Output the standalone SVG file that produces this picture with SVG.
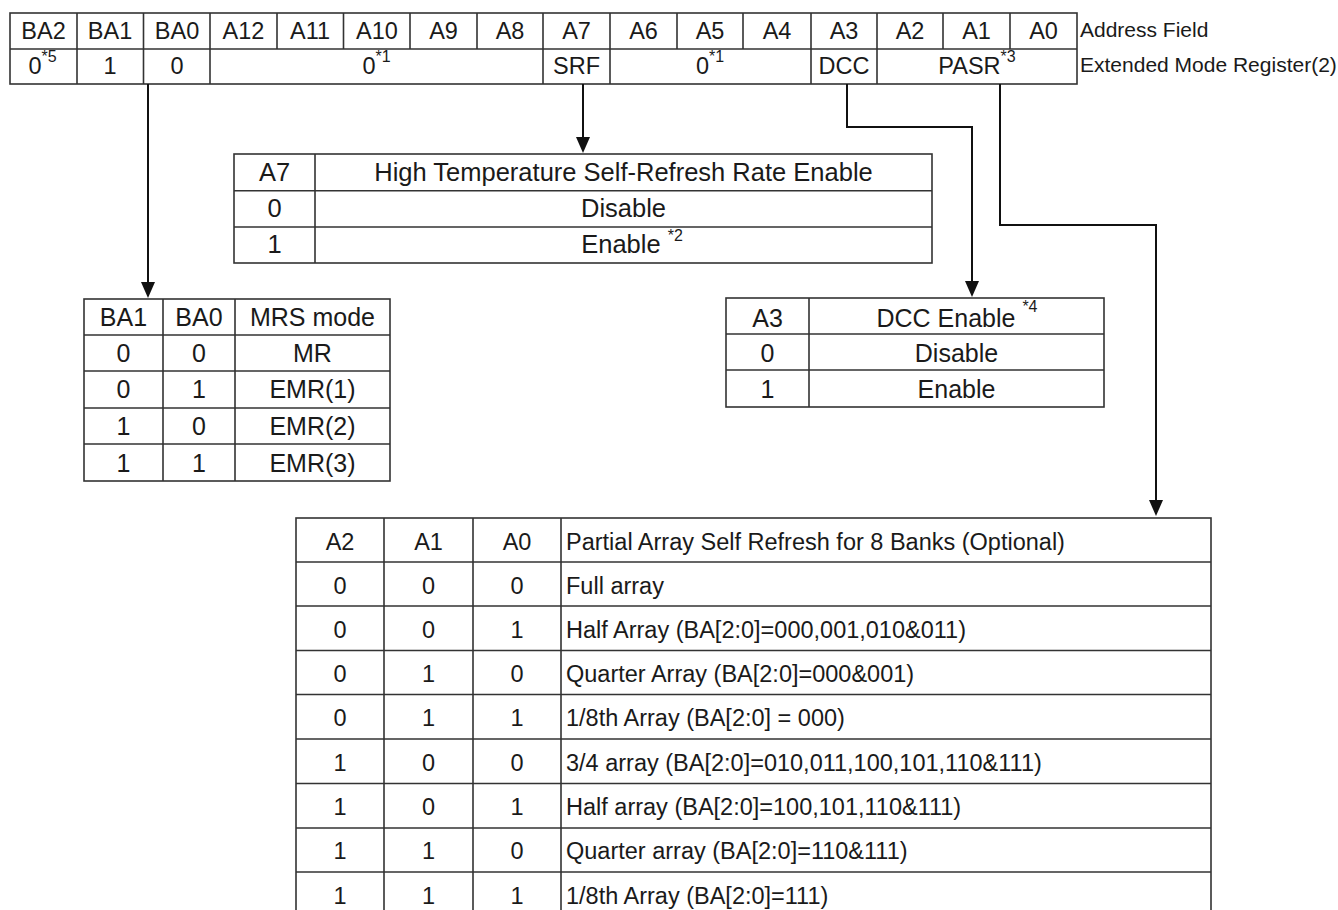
<svg xmlns="http://www.w3.org/2000/svg" width="1338" height="910" viewBox="0 0 1338 910">
<defs>
<style>
text { font-family: "Liberation Sans", Arial, sans-serif; fill: #1a1a1a; }
.r { font-size: 23.5px; text-anchor: middle; }
.lbl { font-size: 21px; text-anchor: start; }
.t { font-size: 25px; text-anchor: middle; }
.a7 { font-size: 25.5px; text-anchor: middle; }
.p { font-size: 23.5px; text-anchor: middle; }
.pl { font-size: 23.5px; text-anchor: start; }
.sup { font-size: 16px; }
.grid { fill: none; stroke: #333; stroke-width: 1.6; }
.conn { fill: none; stroke: #111; stroke-width: 2; }
</style>
<marker id="arr" markerUnits="userSpaceOnUse" markerWidth="16" markerHeight="14" refX="12" refY="7" orient="auto">
<path d="M0,0 L16,7 L0,14 z" fill="#111"/>
</marker>
</defs>
<rect width="1338" height="910" fill="#fff"/>

<g id="register">
<rect class="grid" x="10" y="13" width="1067" height="71"/>
<path class="grid" d="M10,49 H1077
M77,13 V84 M143.5,13 V84 M210,13 V84 M277,13 V49 M343.5,13 V49 M410,13 V49 M477,13 V49 M543,13 V84 M610,13 V84 M677,13 V49 M743,13 V49 M811,13 V84 M877,13 V84 M943,13 V49 M1010,13 V49"/>
<text class="r" x="43.5" y="39">BA2</text>
<text class="r" x="110" y="39">BA1</text>
<text class="r" x="177" y="39">BA0</text>
<text class="r" x="243.5" y="39">A12</text>
<text class="r" x="310" y="39">A11</text>
<text class="r" x="377" y="39">A10</text>
<text class="r" x="443.5" y="39">A9</text>
<text class="r" x="510" y="39">A8</text>
<text class="r" x="576.5" y="39">A7</text>
<text class="r" x="643.5" y="39">A6</text>
<text class="r" x="710" y="39">A5</text>
<text class="r" x="777" y="39">A4</text>
<text class="r" x="844" y="39">A3</text>
<text class="r" x="910" y="39">A2</text>
<text class="r" x="976.5" y="39">A1</text>
<text class="r" x="1043.5" y="39">A0</text>
<text class="r" x="42.5" y="74">0<tspan class="sup" dy="-12">*5</tspan></text>
<text class="r" x="110" y="74">1</text>
<text class="r" x="177" y="74">0</text>
<text class="r" x="376.5" y="74">0<tspan class="sup" dy="-12">*1</tspan></text>
<text class="r" x="576.5" y="74">SRF</text>
<text class="r" x="710" y="74">0<tspan class="sup" dy="-12">*1</tspan></text>
<text class="r" x="844" y="74">DCC</text>
<text class="r" x="977" y="74">PASR<tspan class="sup" dy="-12">*3</tspan></text>
<text class="lbl" x="1080" y="37">Address Field</text>
<text class="lbl" x="1080" y="72">Extended Mode Register(2)</text>
</g>

<g id="connectors">
<path class="conn" d="M148,84 V294" marker-end="url(#arr)"/>
<path class="conn" d="M583,84 V149" marker-end="url(#arr)"/>
<path class="conn" d="M847,84 V127 H972 V293" marker-end="url(#arr)"/>
<path class="conn" d="M1000,84 V225 H1156 V512" marker-end="url(#arr)"/>
</g>

<g id="tbl-a7">
<rect class="grid" x="234" y="154" width="698" height="109"/>
<path class="grid" d="M234,190.7 H932 M234,227 H932 M315,154 V263"/>
<text class="a7" x="274.5" y="181">A7</text>
<text class="a7" x="623.5" y="181">High Temperature Self-Refresh Rate Enable</text>
<text class="a7" x="274.5" y="217">0</text>
<text class="a7" x="623.5" y="217">Disable</text>
<text class="a7" x="274.5" y="253">1</text>
<text class="a7" x="632" y="253">Enable <tspan class="sup" dy="-12">*2</tspan></text>
</g>

<g id="tbl-ba">
<rect class="grid" x="84" y="299" width="306" height="182"/>
<path class="grid" d="M84,335 H390 M84,371 H390 M84,408 H390 M84,444 H390 M163,299 V481 M235,299 V481"/>
<text class="t" x="123.5" y="326">BA1</text>
<text class="t" x="199" y="326">BA0</text>
<text class="t" x="312.5" y="326">MRS mode</text>
<text class="t" x="123.5" y="362">0</text>
<text class="t" x="199" y="362">0</text>
<text class="t" x="312.5" y="362">MR</text>
<text class="t" x="123.5" y="398">0</text>
<text class="t" x="199" y="398">1</text>
<text class="t" x="312.5" y="398">EMR(1)</text>
<text class="t" x="123.5" y="435">1</text>
<text class="t" x="199" y="435">0</text>
<text class="t" x="312.5" y="435">EMR(2)</text>
<text class="t" x="123.5" y="471.5">1</text>
<text class="t" x="199" y="471.5">1</text>
<text class="t" x="312.5" y="471.5">EMR(3)</text>
</g>

<g id="tbl-dcc">
<rect class="grid" x="726" y="298" width="378" height="109"/>
<path class="grid" d="M726,334 H1104 M726,370 H1104 M809,298 V407"/>
<text class="t" x="767.5" y="327">A3</text>
<text class="t" x="957" y="327">DCC Enable <tspan class="sup" dy="-15">*4</tspan></text>
<text class="t" x="767.5" y="362">0</text>
<text class="t" x="956.5" y="362">Disable</text>
<text class="t" x="767.5" y="398">1</text>
<text class="t" x="956.5" y="398">Enable</text>
</g>

<g id="tbl-pasr">
<rect class="grid" x="296" y="518" width="915" height="398"/>
<path class="grid" d="M296,562 H1211 M296,606 H1211 M296,650.5 H1211 M296,694.5 H1211 M296,739 H1211 M296,783.5 H1211 M296,828 H1211 M296,872 H1211 M384,518 V916 M473,518 V916 M561,518 V916"/>
<text class="p" x="340" y="549.5">A2</text>
<text class="p" x="428.5" y="549.5">A1</text>
<text class="p" x="517" y="549.5">A0</text>
<text class="pl" x="566" y="549.5">Partial Array Self Refresh for 8 Banks (Optional)</text>
<text class="p" x="340" y="593.5">0</text><text class="p" x="428.5" y="593.5">0</text><text class="p" x="517" y="593.5">0</text>
<text class="pl" x="566" y="593.5">Full array</text>
<text class="p" x="340" y="637.8">0</text><text class="p" x="428.5" y="637.8">0</text><text class="p" x="517" y="637.8">1</text>
<text class="pl" x="566" y="637.8">Half Array (BA[2:0]=000,001,010&amp;011)</text>
<text class="p" x="340" y="682">0</text><text class="p" x="428.5" y="682">1</text><text class="p" x="517" y="682">0</text>
<text class="pl" x="566" y="682">Quarter Array (BA[2:0]=000&amp;001)</text>
<text class="p" x="340" y="726.3">0</text><text class="p" x="428.5" y="726.3">1</text><text class="p" x="517" y="726.3">1</text>
<text class="pl" x="566" y="726.3">1/8th Array (BA[2:0] = 000)</text>
<text class="p" x="340" y="770.5">1</text><text class="p" x="428.5" y="770.5">0</text><text class="p" x="517" y="770.5">0</text>
<text class="pl" x="566" y="770.5">3/4 array (BA[2:0]=010,011,100,101,110&amp;111)</text>
<text class="p" x="340" y="815">1</text><text class="p" x="428.5" y="815">0</text><text class="p" x="517" y="815">1</text>
<text class="pl" x="566" y="815">Half array (BA[2:0]=100,101,110&amp;111)</text>
<text class="p" x="340" y="859.3">1</text><text class="p" x="428.5" y="859.3">1</text><text class="p" x="517" y="859.3">0</text>
<text class="pl" x="566" y="859.3">Quarter array (BA[2:0]=110&amp;111)</text>
<text class="p" x="340" y="903.5">1</text><text class="p" x="428.5" y="903.5">1</text><text class="p" x="517" y="903.5">1</text>
<text class="pl" x="566" y="903.5">1/8th Array (BA[2:0]=111)</text>
</g>
</svg>
